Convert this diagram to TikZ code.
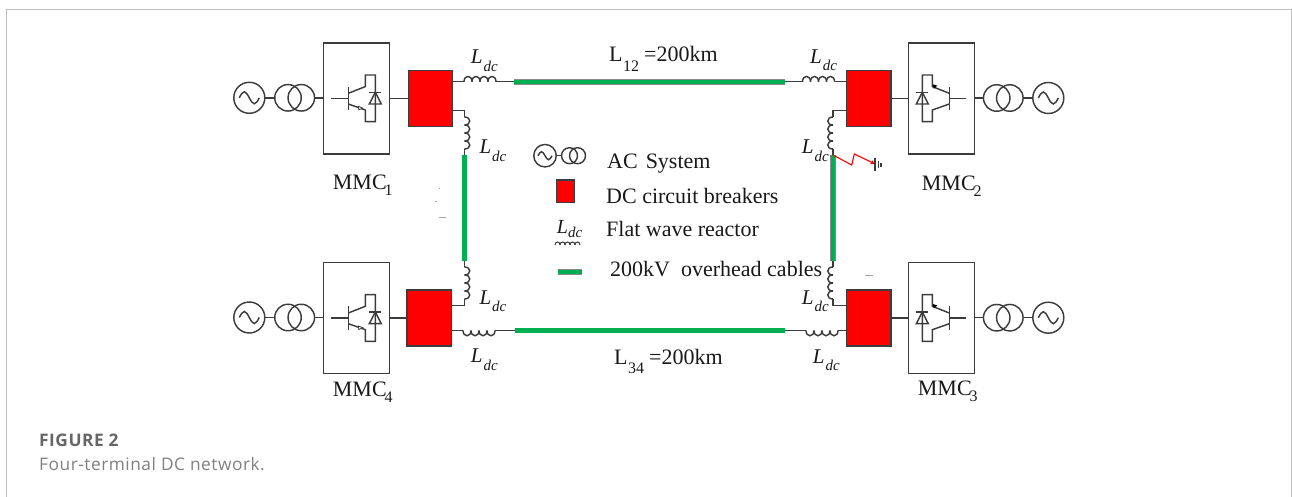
\documentclass[tikz,border=0pt]{standalone}
\usepackage{fontspec}
\setmainfont{Liberation Serif}
\newfontfamily\capfont[LetterSpace=3]{Open Sans}
\definecolor{linegray}{HTML}{3C3C3C}
\definecolor{cablegreen}{HTML}{00B050}
\definecolor{framegray}{HTML}{BEBEBE}
\newcommand{\Ldc}{\fontsize{21}{21}\selectfont\itshape L\kern1pt\raisebox{-7.5pt}{\fontsize{15}{15}\selectfont dc}}
\newcommand{\MMCsub}[1]{\fontsize{22}{22}\selectfont MMC\kern-2.2pt\raisebox{-6.5pt}{\fontsize{16}{16}\selectfont #1}}
\newcommand{\Lline}[1]{\fontsize{22}{22}\selectfont L\kern.5pt\raisebox{-9.5pt}{\fontsize{16}{16}\selectfont #1}\kern5pt=200km}
\tikzset{
	wire/.style={draw=linegray,line width=1.45pt},
	acsource/.style={circle,wire,minimum size=31pt,inner sep=0pt,outer sep=0pt},
	winding/.style={circle,wire,minimum size=26.5pt,inner sep=0pt,outer sep=0pt},
	mmcbox/.style={rectangle,wire,minimum width=66pt,minimum height=111pt,outer sep=0pt},
	breaker/.style={rectangle,wire,fill=red,minimum width=44.5pt,minimum height=56pt,outer sep=0pt},
	cable/.style={draw=linegray!60,line width=.7pt,double=cablegreen,double distance=4.3pt},
	txt/.style={anchor=base west,inner sep=0pt,text=black!90},
	speck/.style={draw=black!35,line width=.8pt},
	igbt/.pic={
		\draw[wire] (-25,0)--(-8,0);
		\draw[wire] (-8,-11.7)--(-8,11.7);
		\draw[wire] (-8,-5)--(9,-11.7)--(9,-23.3)--(19,-23.3)--(19,5.7)--(19,23.3)--(9,23.3)--(9,11.7)--(-8,5.7);
		\draw[wire] (13,-6)--(25,-6);
		\draw[wire] (13,5.7)--(25,5.7)--(19,-6)--cycle;
	},
	reactor/.pic={
		\foreach \k in {0,8,16,24}{
			\draw[wire] (\k,0) .. controls (\k,-7) and (\k+8,-7) .. (\k+8,0);
		}
	},
}
\begin{document}
\begin{tikzpicture}[x=1pt,y=-1pt]
	\useasboundingbox (0,0) rectangle (1292,497);
	\draw[framegray,line width=1pt] (6.5,497)--(6.5,9.5)--(1291,9.5)--(1291,497);
	%terminals
	\foreach \t/\xa/\xb/\xc/\xm/\xk/\yc/\ym/\yk in {
		1/249.3/288/301.3/356.3/430.5/97.8/98.3/98.7,
		4/249.3/288/301.3/356.3/429.2/317.5/318/318,
		2/1048.3/1009.8/996.7/941.3/868.7/98/98.3/98.3,
		3/1048.3/1009.8/996.7/941.3/868.7/317.7/318/317.8}{
		\node[acsource] (ac\t) at (\xa,\yc) {};
		\node[winding] (tra\t) at (\xb,\yc) {};
		\node[winding] (trb\t) at (\xc,\yc) {};
		\node[mmcbox] (mmc\t) at (\xm,\ym) {};
		\node[breaker] (brk\t) at (\xk,\yk) {};
		\draw[wire] (ac\t)--(tra\t);
		\draw[wire] (\xa-10,\yc) sin (\xa-5,\yc-6) cos (\xa,\yc) sin (\xa+5,\yc+6) cos (\xa+10,\yc);
	}
	\draw[wire] (trb1)--(mmc1.west |- trb1);
	\draw[wire] (trb4)--(mmc4.west |- trb4);
	\draw[wire] (trb2)--(mmc2.east |- trb2);
	\draw[wire] (trb3)--(mmc3.east |- trb3);
	\draw[wire] (mmc1.east |- brk1)--(brk1.west);
	\draw[wire] (mmc4.east |- brk4)--(brk4.west);
	\draw[wire] (mmc2.west |- brk2)--(brk2.east);
	\draw[wire] (mmc3.west |- brk3)--(brk3.east);
	\pic at (mmc1) {igbt};
	\pic at (mmc4) {igbt};
	\pic[xscale=-1] at (mmc2) {igbt};
	\pic[xscale=-1] at (mmc3) {igbt};
	\foreach \t in {1,4}{
		\draw[linegray,line width=.8pt,fill=white] ([shift={(2,8)}]mmc\t.center)--([shift={(6.5,9.8)}]mmc\t.center)--([shift={(2.5,11.5)}]mmc\t.center)--cycle;
	}
	\foreach \t in {2,3}{
		\fill[black] ([shift={(-8.5,-14)}]mmc\t.center)--([shift={(-4,-12.6)}]mmc\t.center)--([shift={(-7.5,-9.5)}]mmc\t.center)--cycle;
	}
	%horizontal lines
	\foreach \n/\yl/\xa/\xb/\xc/\ka/\kb/\sc in {12/81.7/464/514.3/802.5/1/2/1,34/330.5/463/514.7/806/4/3/-1}{
		\coordinate (ra\n) at (\xa,\yl);
		\coordinate (rb\n) at (\xa+32,\yl);
		\coordinate (ca\n) at (\xb,\yl);
		\coordinate (cb\n) at (784.5,\yl);
		\coordinate (rc\n) at (\xc,\yl);
		\coordinate (rd\n) at (\xc+32,\yl);
		\draw[wire] (brk\ka.east |- ra\n)--(ra\n);
		\pic[yscale=\sc] at (ra\n) {reactor};
		\draw[wire] (rb\n)--(ca\n);
		\draw[cable] (ca\n)--(cb\n);
		\draw[wire] (cb\n)--(rc\n);
		\pic[yscale=\sc] at (rc\n) {reactor};
		\draw[wire] (rd\n)--(brk\kb.west |- rd\n);
	}
	%vertical lines
	\foreach \n/\xl/\ka/\kb/\sc/\sd in {14/464.5/1/4/1/east,23/833/2/3/-1/west}{
		\coordinate (va\n) at (\xl,110.7);
		\coordinate (vb\n) at (\xl,117);
		\coordinate (vc\n) at (\xl,149);
		\coordinate (ca\n) at (\xl,155);
		\coordinate (cb\n) at (\xl,261);
		\coordinate (vd\n) at (\xl,267);
		\coordinate (ve\n) at (\xl,299);
		\coordinate (vf\n) at (\xl,305.5);
		\draw[wire] (brk\ka.\sd |- va\n)--(va\n)--(vb\n);
		\pic[rotate=-90,yscale=\sc] at (vb\n) {reactor};
		\draw[wire] (vc\n)--(ca\n);
		\draw[cable] (ca\n)--(cb\n);
		\draw[wire] (cb\n)--(vd\n);
		\pic[rotate=-90,yscale=\sc] at (vd\n) {reactor};
		\draw[wire] (ve\n)--(vf\n)--(brk\kb.\sd |- vf\n);
	}
	%fault
	\coordinate (fa) at (875,164);
	\draw[red,line width=1.1pt,->,>=stealth] (ca23)--(851.7,165)--(854.3,154)--(fa);
	\draw[linegray,line width=1.1pt] (875,158.3)--(875,170.7);
	\draw[linegray,line width=1.1pt] (878.3,161.5)--(878.3,168);
	\draw[linegray,line width=1.1pt] (881,163)--(881,167);
	%labels
	\node[txt] (la) at (470.7,64) {\Ldc};
	\node[txt] (lb) at (479.3,154) {\Ldc};
	\node[txt] (lc) at (810,63.3) {\Ldc};
	\node[txt] (ld) at (801.7,154) {\Ldc};
	\node[txt] (le) at (479.3,304) {\Ldc};
	\node[txt] (lf) at (470.7,362.7) {\Ldc};
	\node[txt] (lg) at (801.7,304) {\Ldc};
	\node[txt] (lh) at (812.7,363.3) {\Ldc};
	\node[txt] (m1) at (332.7,189.3) {\MMCsub{1}};
	\node[txt] (m2) at (921.7,190) {\MMCsub{2}};
	\node[txt] (m4) at (332.7,396) {\MMCsub{4}};
	\node[txt] (m3) at (917.7,395.3) {\MMCsub{3}};
	\node[txt] (l12) at (609,61.7) {\Lline{12}};
	\node[txt] (l34) at (614,364) {\Lline{34}};
	%legend
	\node[circle,wire,minimum size=22.5pt,inner sep=0pt] (kac) at (545,155.7) {};
	\node[circle,wire,minimum size=16pt,inner sep=0pt] (kta) at (569.5,155.7) {};
	\node[circle,wire,minimum size=16pt,inner sep=0pt] (ktb) at (577.5,155.7) {};
	\draw[wire] (kac)--(kta);
	\draw[wire] (538,155.7) sin (541.5,151.7) cos (545,155.7) sin (548.5,159.7) cos (552,155.7);
	\node[rectangle,wire,fill=red,minimum width=18pt,minimum height=22.7pt,outer sep=0pt] (kbr) at (565.7,191.3) {};
	\node[txt] (kl) at (556.7,233) {\fontsize{20}{20}\selectfont\itshape L\raisebox{-4.5pt}{\fontsize{15}{15}\selectfont dc}};
	\foreach \k in {555,560,...,575}{
		\draw[linegray,line width=1pt] (\k,245) .. controls (\k,241) and (\k+5,241) .. (\k+5,245);
	}
	\coordinate (kca) at (557.7,271.7);
	\coordinate (kcb) at (581.7,271.7);
	\draw[cable] (kca)--(kcb);
	\node[txt,font=\fontsize{22}{22}\selectfont] (t1) at (607,168.3) {AC\kern8pt System};
	\node[txt,font=\fontsize{22}{22}\selectfont] (t2) at (606,204) {DC circuit breakers};
	\node[txt,font=\fontsize{22}{22}\selectfont] (t3) at (606,236) {Flat wave reactor};
	\node[txt,font=\fontsize{22}{22}\selectfont] (t4) at (610,276) {200kV\ \ overhead cables};
	%specks
	\draw[speck] (438.5,188)--(439.5,188);
	\draw[speck] (435,201.7)--(437,201.7);
	\draw[speck] (439,217.3)--(446,217.3);
	\draw[speck] (865,275)--(873,275);
	%caption
	\node[anchor=base west,inner sep=0pt,text=black!60,font=\capfont\bfseries\fontsize{17.3}{17.3}\selectfont] (fig) at (39,446.7) {FIGURE 2};
	\node[anchor=base west,inner sep=0pt,text=black!50,font=\capfont\fontsize{17.3}{17.3}\selectfont] (cap) at (39,470.7) {Four-terminal DC network.};
\end{tikzpicture}
\end{document}
